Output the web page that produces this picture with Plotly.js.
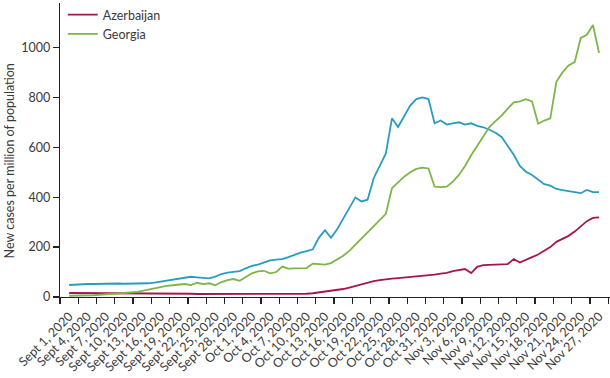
<!DOCTYPE html>
<html>
<head>
<meta charset="utf-8">
<script src="https://cdn.plot.ly/plotly-3.0.1.min.js"></script>
<style>html,body{margin:0;padding:0;background:#fff;}#chart{width:610px;height:378px;}</style>
</head>
<body>
<div id="chart"></div>
<script>
// Daily values from Sept 1, 2020 to Nov 27, 2020 (88 days)
const startDate = '2020-09-01';
const nDays = 88;

const armenia = [
  48, 50, 51, 52, 52, 53, 55, 55, 54, 53,
  53, 53, 53, 55, 58, 62, 66, 70, 74, 78,
  81, 79, 76, 75, 82, 92, 98, 102, 104, 115,
  125, 130, 138, 147, 150, 152, 160, 170, 178, 184,
  191, 237, 268, 237, 271, 314, 357, 399, 383, 390,
  476, 525, 575, 716, 681, 724, 767, 793, 800, 793,
  696, 707, 691, 696, 700, 691, 696, 686, 680, 670,
  658, 641, 608, 570, 525, 502, 489, 470, 452, 446,
  433, 428, 423, 419, 416, 429, 420, 420
];
const azerbaijan = [
  16, 16, 16, 16, 16, 16, 16, 16, 16, 16,
  16, 15, 15, 14, 14, 14, 14, 13, 13, 13,
  13, 12, 12, 12, 12, 11, 11, 11, 10, 10,
  10, 10, 10, 10, 10, 10, 10, 11, 12, 13,
  15, 18, 20, 23, 27, 32, 38, 45, 52, 58,
  64, 68, 72, 74, 76, 78, 80, 81, 83, 85,
  90, 94, 97, 104, 108, 112, 96, 121, 128, 128,
  129, 131, 132, 152, 138, 150, 160, 170, 185, 200,
  221, 232, 245, 262, 284, 304, 317, 319
];
const georgia = [
  5, 5, 6, 6, 7, 9, 12, 13, 14, 15,
  17, 20, 25, 30, 36, 41, 45, 47, 48, 52,
  48, 57, 52, 55, 47, 60, 68, 72, 65, 80,
  95, 103, 105, 95, 100, 122, 114, 115, 115, 116,
  134, 132, 130, 136, 150, 165, 185, 210, 235, 260,
  285, 310, 333, 436, 460, 482, 500, 513, 518, 515,
  442, 440, 442, 462, 489, 525, 568, 607, 645, 681,
  705, 727, 755, 780, 784, 793, 784, 694, 707, 716,
  863, 900, 928, 941, 1038, 1051, 1090, 978
];

const tickLabels = [
  'Sept 1, 2020','Sept 4, 2020','Sept 7, 2020','Sept 10, 2020','Sept 13, 2020',
  'Sept 16, 2020','Sept 19, 2020','Sept 22, 2020','Sept 25, 2020','Sept 28, 2020',
  'Oct 1, 2020','Oct 4, 2020','Oct 7, 2020','Oct 10, 2020','Oct 13, 2020',
  'Oct 16, 2020','Oct 19, 2020','Oct 22, 2020','Oct 25, 2020','Oct 28, 2020',
  'Oct 31, 2020','Nov 3, 2020','Nov 6, 2020','Nov 9, 2020','Nov 12, 2020',
  'Nov 15, 2020','Nov 18, 2020','Nov 21, 2020','Nov 24, 2020','Nov 27, 2020'
];
const tickDates = [
  '2020-09-01','2020-09-04','2020-09-07','2020-09-10','2020-09-13',
  '2020-09-16','2020-09-19','2020-09-22','2020-09-25','2020-09-28',
  '2020-10-01','2020-10-04','2020-10-07','2020-10-10','2020-10-13',
  '2020-10-16','2020-10-19','2020-10-22','2020-10-25','2020-10-28',
  '2020-10-31','2020-11-03','2020-11-06','2020-11-09','2020-11-12',
  '2020-11-15','2020-11-18','2020-11-21','2020-11-24','2020-11-27'
];
const yTicks = [0, 200, 400, 600, 800, 1000];

// helpers
const DAY = 86400000;
function fmt(ms){ const d = new Date(ms); return d.toISOString().slice(0,19).replace('T',' '); }
const t0 = Date.parse(startDate + 'T00:00:00Z');
const dates = [];
for (let i = 0; i < nDays; i++) dates.push(fmt(t0 + i*DAY));
// tick marks sit between category days (1.5 days after each labelled date)
const tickMarkVals = [fmt(t0 - 1.5*DAY)].concat(tickDates.map(d => fmt(Date.parse(d+'T00:00:00Z') + 1.5*DAY)));
const tickMarkText = [''].concat(tickLabels);

const FONT = 'Lato, "Noto Sans", sans-serif';
const TXT = '#3a3a3a';

const traces = [
  {x: dates, y: armenia, name: 'Armenia', type: 'scatter', mode: 'lines', showlegend: false,
   line: {color: '#2a9cc0', width: 1.8}},
  {x: dates, y: azerbaijan, name: 'Azerbaijan', type: 'scatter', mode: 'lines',
   line: {color: '#a3174c', width: 1.8}},
  {x: dates, y: georgia, name: 'Georgia', type: 'scatter', mode: 'lines',
   line: {color: '#7db549', width: 1.8}}
];

const layout = {
  width: 610, height: 378,
  margin: {l: 60, r: 0, t: 0, b: 81, pad: 0},
  paper_bgcolor: '#fff', plot_bgcolor: '#fff',
  font: {family: FONT, size: 12.5, color: TXT},
  showlegend: true,
  legend: {x: 0.005, xanchor: 'left', y: 1.01, yanchor: 'top', bgcolor: 'rgba(0,0,0,0)',
           font: {family: FONT, size: 12.5, color: TXT}, tracegroupgap: 0},
  xaxis: {
    type: 'date',
    range: [fmt(t0 - 1.5*DAY), fmt(t0 + 88.8*DAY)],
    tickmode: 'array', tickvals: tickMarkVals, ticktext: tickMarkText,
    tickangle: -45, ticklabelshift: -9,
    ticks: 'outside', ticklen: 6, tickwidth: 1.2, tickcolor: '#222',
    showline: true, linecolor: '#222', linewidth: 1.2,
    showgrid: false, zeroline: false,
    tickfont: {family: FONT, size: 12.5, color: TXT}
  },
  yaxis: {
    range: [0, 1178],
    tickmode: 'array', tickvals: yTicks,
    ticks: 'outside', ticklen: 6, tickwidth: 1.2, tickcolor: '#222',
    showline: true, linecolor: '#222', linewidth: 1.2,
    showgrid: false, zeroline: false,
    tickfont: {family: FONT, size: 12.5, color: TXT}
  },
  annotations: [{
    text: 'New cases per million of population',
    xref: 'paper', yref: 'paper', x: (9-60)/550, y: (297-160)/297,
    xanchor: 'center', yanchor: 'middle', textangle: -90, showarrow: false,
    font: {family: FONT, size: 12.5, color: TXT}
  }]
};

Plotly.newPlot('chart', traces, layout, {displayModeBar: false, staticPlot: true});
</script>
</body>
</html>
